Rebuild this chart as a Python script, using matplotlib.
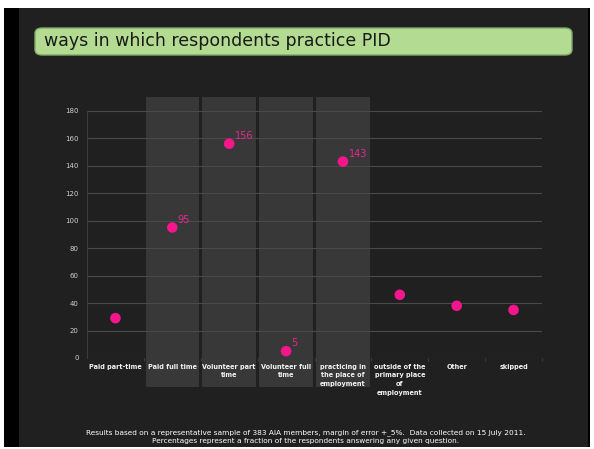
import matplotlib
matplotlib.use("Agg")
import matplotlib.pyplot as plt
from matplotlib.patches import Rectangle, FancyBboxPatch

categories = ["Paid part-time", "Paid full time", "Volunteer part\ntime",
              "Volunteer full\ntime", "practicing in\nthe place of\nemployment",
              "outside of the\nprimary place\nof\nemployment", "Other", "skipped"]
values = [29, 95, 156, 5, 143, 46, 38, 35]
labeled = [False, True, True, True, True, False, False, False]
shaded = [False, True, True, True, True, False, False, False]
yticks = [0, 20, 40, 60, 80, 100, 120, 140, 160, 180]
title = "ways in which respondents practice PID"
footnote = ("Results based on a representative sample of 383 AIA members, margin of error +_5%.  Data collected on 15 July 2011.\n"
            "Percentages represent a fraction of the respondents answering any given question.")

W, H = 594, 449
fig = plt.figure(figsize=(W / 100, H / 100), dpi=100, facecolor="white")

def fx(px):
    return px / W

def fy(py):
    return 1 - py / H

# frame backgrounds
fig.patches.append(Rectangle((fx(4), fy(447)), fx(590) - fx(4), fy(8) - fy(447),
                             transform=fig.transFigure, facecolor="black", edgecolor="none", zorder=-10))
fig.patches.append(Rectangle((fx(19), fy(447)), fx(588) - fx(19), fy(8) - fy(447),
                             transform=fig.transFigure, facecolor="#202020", edgecolor="none", zorder=-9))

# title box
fig.patches.append(FancyBboxPatch((fx(35), fy(55)), fx(572) - fx(35), fy(28) - fy(55),
                                  boxstyle="round,pad=0,rounding_size=0.012",
                                  transform=fig.transFigure, facecolor="#b3db92",
                                  edgecolor="#7fa867", linewidth=1, zorder=1))
fig.text(fx(44), fy(41.5), title, fontsize=12.5, color="#1a1a1a", va="center", ha="left",
         family="DejaVu Sans")

# axes
ax_left, ax_right, ax_top, ax_bottom = 87, 542, 97, 358
ax = fig.add_axes([fx(ax_left), fy(ax_bottom), fx(ax_right) - fx(ax_left), fy(ax_top) - fy(ax_bottom)])
ax.set_facecolor("none")
n = len(categories)
ax.set_xlim(-0.5, n - 0.5)
ax.set_ylim(0, 190)

for i, s in enumerate(shaded):
    if s:
        ax.add_patch(Rectangle((i - 0.47, -21), 0.94, 211, facecolor="#383838",
                               edgecolor="none", clip_on=False, zorder=0))

for t in yticks:
    ax.axhline(t, color="#4a4a4a", linewidth=0.8, zorder=1)

ax.scatter(range(n), values, s=58, color="#f5168c", zorder=3, edgecolors="none")
for i, (v, lab) in enumerate(zip(values, labeled)):
    if lab:
        ax.annotate(str(v), (i, v), xytext=(4, 2), textcoords="offset points",
                    color="#e8288f", fontsize=7, ha="left", va="bottom", zorder=4)

for sp in ["top", "right"]:
    ax.spines[sp].set_visible(False)
ax.spines["left"].set_color("#3c3c3c")
ax.spines["bottom"].set_visible(False)
ax.spines["left"].set_bounds(0, 180)

ax.set_yticks(yticks)
ax.set_yticklabels([str(t) for t in yticks], fontsize=5, color="#cfcfcf")
ax.tick_params(axis="y", length=0, pad=6)
ax.set_xticks(range(n))
ax.set_xticklabels(categories, fontsize=4.7, color="#f2f2f2", fontweight="bold", linespacing=1.55)
ax.tick_params(axis="x", length=0, pad=4)
ax.set_xticks([i + 0.5 for i in range(n)], minor=True)
ax.tick_params(axis="x", which="minor", length=2, color="#444444", direction="out")
for lbl in ax.get_xticklabels():
    lbl.set_va("top")

fig.text(fx(306), fy(436.5), footnote, fontsize=5.3, color="white", ha="center", va="center",
         linespacing=1.4)

fig.savefig("out.png", dpi=100, facecolor="white")
